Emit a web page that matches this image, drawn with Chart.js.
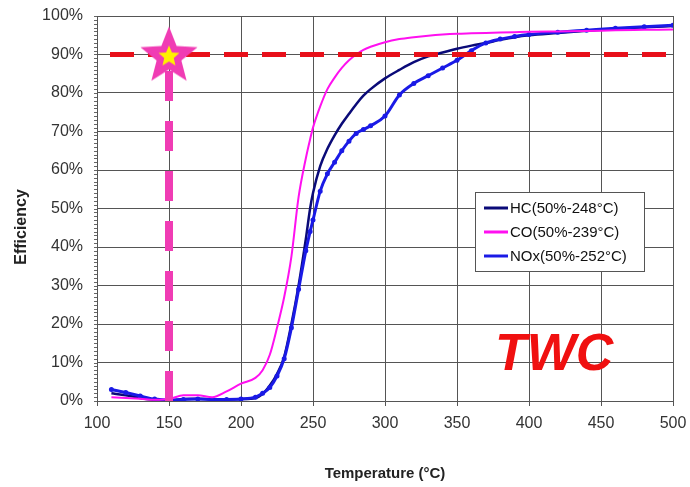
<!DOCTYPE html>
<html>
<head>
<meta charset="utf-8">
<script src="https://cdn.jsdelivr.net/npm/chart.js@4/dist/chart.umd.min.js"></script>
<style>
  html, body { margin: 0; padding: 0; background: #ffffff; }
  #wrap { position: relative; width: 690px; height: 487px; }
</style>
</head>
<body>
<div id="wrap"><canvas id="chart" width="690" height="487"></canvas></div>
<script>
// Light-off test of a three-way catalyst: conversion efficiency vs. inlet temperature
const temps = [110, 120, 130, 140, 150, 160, 170, 180, 190, 200, 210, 215, 220, 225, 230, 235,
               240, 245, 248, 250, 255, 260, 265, 270, 275, 280, 285, 290, 300, 310, 320, 330,
               340, 350, 360, 370, 380, 390, 400, 420, 440, 460, 480, 500];

const hcEff  = [2.0, 1.5, 0.8, 0.3, 0.2, 0.5, 0.6, 0.4, 0.4, 0.5, 0.8, 1.8, 4.0, 7.0, 11.5, 20,
                30, 42, 50, 54, 61, 65.5, 69, 72, 74.6, 77.1, 79.3, 81, 83.8, 86, 88, 89.5,
                90.5, 91.5, 92.3, 93, 93.8, 94.5, 95, 95.6, 96.2, 96.7, 97.1, 97.4];

const coEff  = [1.0, 0.8, 0.6, 0.3, 0.5, 1.5, 1.5, 1.0, 2.5, 4.5, 6.0, 8.0, 12.0, 19, 27, 37.5,
                53, 63, 68, 71, 76.5, 81, 84, 86.5, 88.5, 90, 91.2, 92, 93.2, 94, 94.5, 94.9,
                95.2, 95.4, 95.5, 95.6, 95.7, 95.8, 95.9, 96, 96.1, 96.3, 96.4, 96.5];

const noxEff = [3.0, 2.2, 1.3, 0.5, 0.2, 0.4, 0.5, 0.4, 0.4, 0.5, 1.0, 2.0, 3.5, 6.5, 11, 19,
                29, 39, 44, 47, 54.5, 59, 62, 65, 67.5, 69.5, 70.5, 71.5, 74, 79.5, 82.5, 84.5,
                86.5, 88.5, 91, 93, 94, 94.7, 95.2, 95.8, 96.3, 96.8, 97.2, 97.6];

const seriesLabels = ['HC(50%-248°C)', 'CO(50%-239°C)', 'NOx(50%-252°C)'];

const tempTicks = [100, 150, 200, 250, 300, 350, 400, 450, 500];
const effTicks  = [0, 10, 20, 30, 40, 50, 60, 70, 80, 90, 100];

const targetEff = 90;        // 90 % conversion target
const markTemp  = 150;       // marked temperature
const catalystName = 'TWC';

const xTitle = 'Temperature (°C)';
const yTitle = 'Efficiency';

const FONT = '"Liberation Sans", Arial, sans-serif';

function toPoints(values) {
  return temps.map((t, i) => ({ x: t, y: values[i] }));
}

// star marker drawn once into an offscreen canvas, used as a point style
function starPath(g, cx, cy, rOut, rIn) {
  g.beginPath();
  for (let i = 0; i < 10; i++) {
    const r = i % 2 === 0 ? rOut : rIn;
    const a = -Math.PI / 2 + i * Math.PI / 5;
    const px = cx + r * Math.cos(a), py = cy + r * Math.sin(a);
    if (i === 0) g.moveTo(px, py); else g.lineTo(px, py);
  }
  g.closePath();
}
function makeStar() {
  const c = document.createElement('canvas');
  c.width = 66; c.height = 66;
  const g = c.getContext('2d');
  starPath(g, 33, 35, 30, 13);
  g.fillStyle = '#F03CB4';
  g.fill();
  starPath(g, 33, 35, 11, 5);
  g.fillStyle = '#FFF200';
  g.fill();
  return c;
}

const seriesColors = ['#0A0A78', '#FF10F0', '#1A1AE6'];
const seriesWidths = [2.5, 2, 3];

const overlay = {
  id: 'overlay',
  afterDraw(chart) {
    const ctx = chart.ctx;
    const area = chart.chartArea;
    const y = chart.scales.y;
    ctx.save();

    // minor tick marks on the efficiency axis
    ctx.strokeStyle = '#666';
    ctx.lineWidth = 1;
    ctx.beginPath();
    for (let v = 0; v <= 100; v += 1) {
      const py = Math.round(y.getPixelForValue(v)) + 0.5;
      ctx.moveTo(area.left - 3, py);
      ctx.lineTo(area.left, py);
    }
    ctx.stroke();

    // legend box
    const bx = 475.5, by = 192.5, bw = 169, bh = 79;
    ctx.fillStyle = '#ffffff';
    ctx.fillRect(bx, by, bw, bh);
    ctx.strokeStyle = '#555';
    ctx.lineWidth = 1;
    ctx.strokeRect(bx, by, bw, bh);
    ctx.font = '15px ' + FONT;
    ctx.textBaseline = 'middle';
    ctx.textAlign = 'left';
    seriesLabels.forEach((lab, i) => {
      const ly = 208 + i * 24;
      ctx.strokeStyle = seriesColors[i];
      ctx.lineWidth = 3;
      ctx.beginPath();
      ctx.moveTo(484, ly);
      ctx.lineTo(508, ly);
      ctx.stroke();
      ctx.fillStyle = '#111';
      ctx.fillText(lab, 510, ly + 1);
    });

    // catalyst label
    ctx.fillStyle = '#F01010';
    ctx.font = 'italic bold 52px ' + FONT;
    ctx.textBaseline = 'alphabetic';
    ctx.fillText(catalystName, 495, 370);

    // axis titles
    ctx.fillStyle = '#222';
    ctx.font = 'bold 15px ' + FONT;
    ctx.textAlign = 'center';
    ctx.fillText(xTitle, (area.left + area.right) / 2, 478);
    ctx.save();
    ctx.translate(26, 227);
    ctx.rotate(-Math.PI / 2);
    ctx.font = 'bold 16px ' + FONT;
    ctx.fillText(yTitle, 0, 0);
    ctx.restore();

    ctx.restore();
  }
};

const lineDefaults = {
  fill: false,
  pointRadius: 0,
  cubicInterpolationMode: 'monotone'
};

// tick labels may overhang the plot edges; the outer layout padding handles the margins
function noScalePadding(scale) {
  scale.paddingTop = 0;
  scale.paddingBottom = 0;
  scale.paddingLeft = 0;
  scale.paddingRight = 0;
}

new Chart(document.getElementById('chart'), {
  type: 'line',
  data: {
    datasets: [
      {
        label: 'marker',
        data: [{ x: markTemp, y: targetEff }],
        pointStyle: makeStar(),
        pointRadius: 30,
        showLine: false,
        clip: false,
        order: 0
      },
      {
        label: 'mark line',
        data: [{ x: markTemp, y: 0 }, { x: markTemp, y: targetEff }],
        borderColor: '#F03CB4',
        borderWidth: 8,
        borderDash: [30, 20],
        pointRadius: 0,
        order: 1
      },
      {
        label: 'target line',
        data: [{ x: tempTicks[0], y: targetEff }, { x: tempTicks[tempTicks.length - 1], y: targetEff }],
        borderColor: '#E8101A',
        borderWidth: 5,
        borderDash: [24, 14],
        borderDashOffset: 25,
        pointRadius: 0,
        order: 2
      },
      Object.assign({}, lineDefaults, {
        label: seriesLabels[1],
        data: toPoints(coEff),
        borderColor: seriesColors[1],
        borderWidth: seriesWidths[1],
        order: 3
      }),
      Object.assign({}, lineDefaults, {
        label: seriesLabels[2],
        data: toPoints(noxEff),
        borderColor: seriesColors[2],
        backgroundColor: seriesColors[2],
        borderWidth: seriesWidths[2],
        pointRadius: 1,
        order: 4
      }),
      Object.assign({}, lineDefaults, {
        label: seriesLabels[0],
        data: toPoints(hcEff),
        borderColor: seriesColors[0],
        borderWidth: seriesWidths[0],
        order: 5
      })
    ]
  },
  options: {
    responsive: false,
    animation: false,
    layout: { autoPadding: false, padding: { top: 16, right: 17, left: 0, bottom: 0 } },
    plugins: {
      legend: { display: false },
      tooltip: { enabled: false }
    },
    scales: {
      x: {
        type: 'linear',
        min: tempTicks[0],
        max: tempTicks[tempTicks.length - 1],
        afterBuildTicks(scale) { scale.ticks = tempTicks.map(v => ({ value: v })); },
        afterFit(scale) { scale.height = 86; noScalePadding(scale); },
        grid: { color: '#555', lineWidth: 1, tickLength: 5 },
        border: { color: '#555' },
        ticks: { color: '#333', font: { family: FONT, size: 16 }, padding: 8, maxRotation: 0 }
      },
      y: {
        type: 'linear',
        min: effTicks[0],
        max: effTicks[effTicks.length - 1],
        afterBuildTicks(scale) { scale.ticks = effTicks.map(v => ({ value: v })); },
        afterFit(scale) { scale.width = 97; noScalePadding(scale); },
        grid: { color: '#555', lineWidth: 1, drawTicks: false },
        border: { color: '#555' },
        ticks: {
          color: '#333',
          font: { family: FONT, size: 16 },
          padding: 14,
          callback: v => v + '%'
        }
      }
    }
  },
  plugins: [overlay]
});
</script>
</body>
</html>
